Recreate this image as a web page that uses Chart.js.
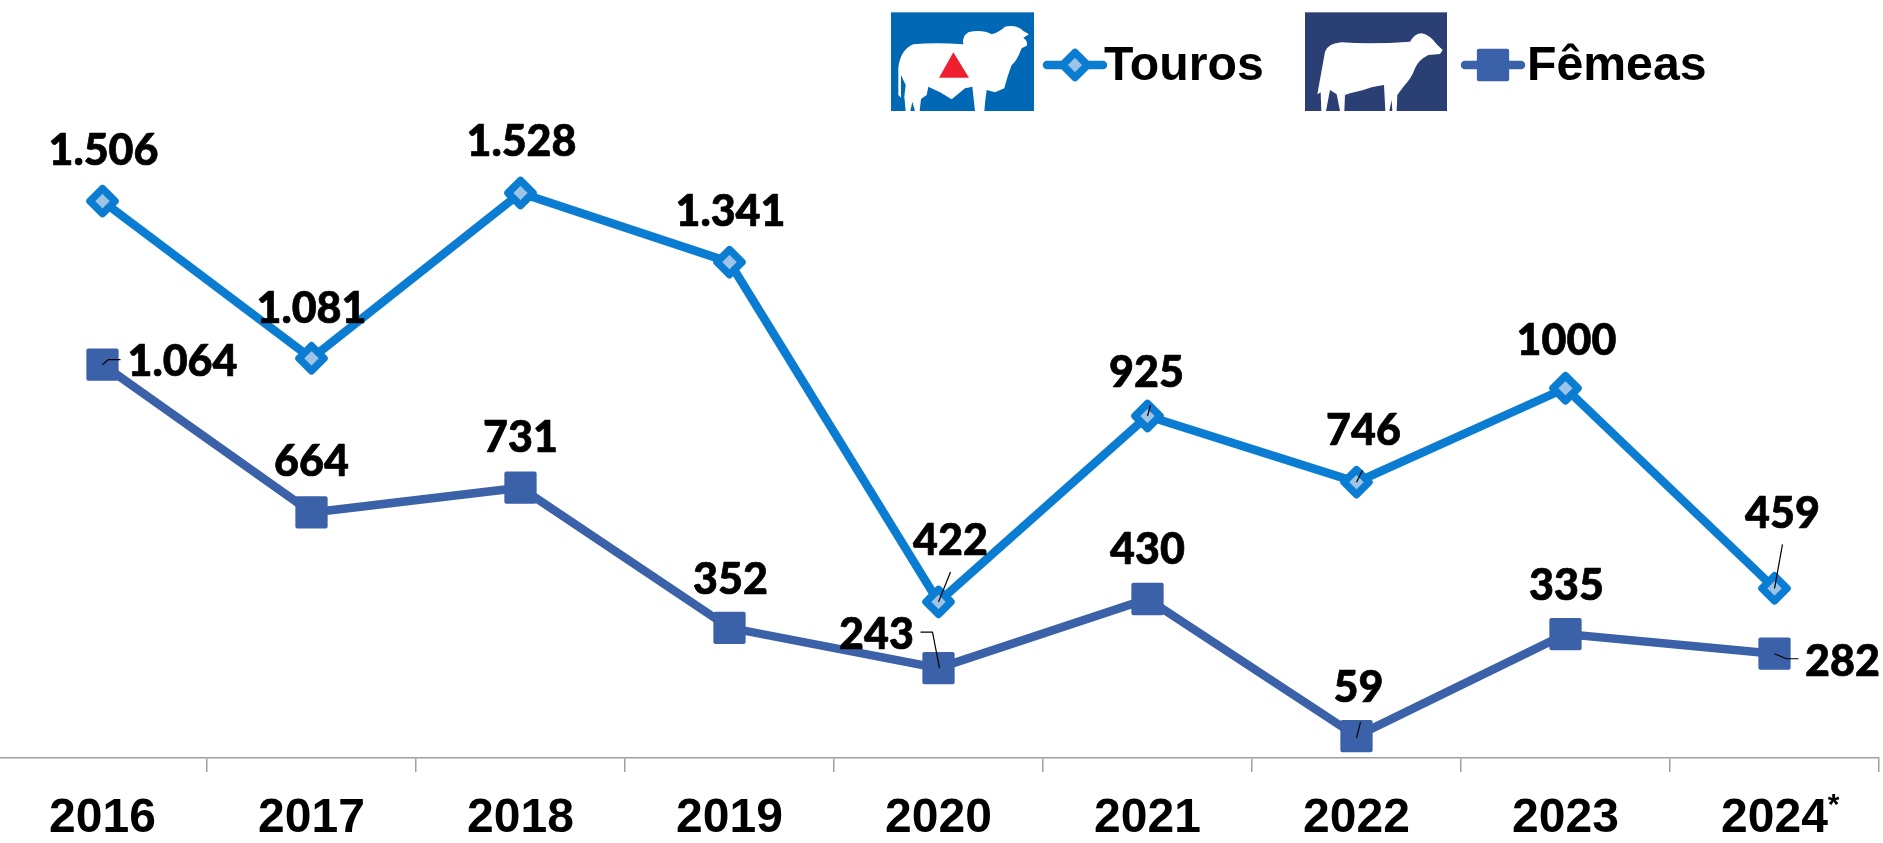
<!DOCTYPE html>
<html><head><meta charset="utf-8">
<style>
html,body{margin:0;padding:0;background:#fff;width:1883px;height:843px;overflow:hidden}
#c{position:absolute;left:-2px;top:0}
svg{position:absolute;top:5px;width:155px;height:110px}
</style>
<script src="https://cdn.jsdelivr.net/npm/chart.js@4"></script>
</head><body>
<canvas id="c" width="1885" height="843"></canvas>
<svg style="left:885px" viewBox="0 0 465 330">
<rect x="18" y="22" width="429" height="296" fill="#0068B5"/>
<path fill="#fff" d="M40 190Q45 135 85 118Q150 112 235 118Q230 95 250 82Q290 72 320 88Q345 80 360 65Q395 58 415 78L432 88L415 98Q430 110 425 122L410 130Q395 170 380 180Q365 220 358 250L330 262L305 255Q300 290 298 318L270 318L262 245L240 250L200 283L165 262L130 245L125 270L108 282L104 318L90 318L82 290L76 318L62 318L58 275L62 240L48 210L48 278L40 270Z"/>
<path fill="#EE2030" d="M205 142L252 218L162 218Z"/>
</svg>
<svg style="left:1300px" viewBox="0 0 465 330">
<rect x="15" y="22" width="426" height="296" fill="#2A4074"/>
<path fill="#fff" d="M75 140Q85 115 125 112Q220 118 330 110Q345 85 365 85Q390 90 410 118L428 135L420 147L385 150Q355 165 345 190Q335 220 310 245L292 270L290 318L277 318L275 285L268 318L256 318L252 240Q215 245 190 255L150 265L135 270L133 318L120 318L110 268L90 255L78 318L64 318L62 262L52 268Z"/>
</svg>
<script>
const categories = ['2016','2017','2018','2019','2020','2021','2022','2023','2024'];
const touros = [1506,1081,1528,1341,422,925,746,1000,459];
const femeas = [1064,664,731,352,243,430,59,335,282];
const tourosLabels = ['1.506','1.081','1.528','1.341','422','925','746','1000','459'];
const femeasLabels = ['1.064','664','731','352','243','430','59','335','282'];

const BLUE='#0A7DD3', LIGHT='#9DC3E6', NAVY='#3B62A9';
const labelOffsets = [
 [[1,-50],[0,-49],[1,-51],[1,-50],[12,-61],[-1,-43],[7,-51],[1,-47],[8,-74]],
 [[80,-2],[0,-50],[0,-50],[1,-48],[-62,-33],[0,-49],[2,-48],[1,-48],[68,8]]
];
const leaders = [
 {4:[[0,0],[12,-30]],5:[[0,0],[3,-11]],6:[[0,0],[6,-12]],8:[[0,0],[8,-44]]},
 {0:[[0,0],[6,-5],[18,-5]],4:[[1,0],[-6,-36],[-18,-36]],6:[[0,2],[4,-14]],8:[[0,0],[12,5],[24,5]]}
];

const annotate = {
  id:'annotate',
  beforeDatasetsDraw(chart){ chart.ctx.lineJoin='round'; },
  afterDatasetsDraw(chart){
    const ctx=chart.ctx;
    ctx.save();
    ctx.lineJoin='miter';
    [tourosLabels,femeasLabels].forEach((labels,d)=>{
      const pts=chart.getDatasetMeta(d).data;
      ctx.strokeStyle='#000'; ctx.lineWidth=1.2;
      Object.entries(leaders[d]).forEach(([i,poly])=>{
        ctx.beginPath();
        poly.forEach(([dx,dy],k)=>{
          const x=pts[i].x+dx,y=pts[i].y+dy;
          k?ctx.lineTo(x,y):ctx.moveTo(x,y);
        });
        ctx.stroke();
      });
      ctx.fillStyle='#000';
      ctx.lineWidth=0.7; ctx.lineJoin='round';
      ctx.font='900 43px Lato, Carlito, sans-serif';
      ctx.textAlign='center'; ctx.textBaseline='middle';
      labels.forEach((t,i)=>{
        const x=pts[i].x+labelOffsets[d][i][0], y=pts[i].y+labelOffsets[d][i][1];
        ctx.fillText(t,x,y);
        ctx.strokeText(t,x,y);
      });
    });
    // superscript on the last category
    const xs=chart.scales.x;
    ctx.font='bold 30px "Liberation Sans", Arial, sans-serif';
    ctx.textAlign='center'; ctx.textBaseline='middle';
    ctx.fillText('*',xs.getPixelForValue(8)+59,806);

    // legend
    ctx.translate(2,0);
    const legend=[[0,1075,1104],[1,1493,1527]];
    legend.forEach(([d,cx,tx])=>{
      const ds=chart.data.datasets[d];
      ctx.strokeStyle=ds.borderColor; ctx.lineWidth=8.5; ctx.lineCap='round';
      ctx.beginPath(); ctx.moveTo(cx-28,65); ctx.lineTo(cx+28,65); ctx.stroke();
      ctx.lineCap='butt'; ctx.lineJoin='round';
      ctx.fillStyle=ds.pointBackgroundColor; ctx.lineWidth=ds.pointBorderWidth;
      Chart.helpers.drawPoint(ctx,{pointStyle:ds.pointStyle,radius:ds.pointRadius,rotation:0,borderWidth:ds.pointBorderWidth},cx,65);
      ctx.fillStyle='#000';
      ctx.font='bold 48.2px "Liberation Sans", Arial, sans-serif';
      ctx.textAlign='left'; ctx.textBaseline='alphabetic';
      ctx.fillText(ds.label,tx,80);
    });
    ctx.restore();
  }
};

new Chart(document.getElementById('c'),{
  type:'line',
  data:{labels:categories,datasets:[
    {label:'Touros',data:touros,borderColor:BLUE,borderWidth:8.5,tension:0,
     pointStyle:'rectRot',pointRadius:12.5,pointHoverRadius:12.5,pointBackgroundColor:LIGHT,pointBorderColor:BLUE,pointBorderWidth:7.5},
    {label:'Fêmeas',data:femeas,borderColor:NAVY,borderWidth:8.5,tension:0,
     pointStyle:'rect',pointRadius:20,pointHoverRadius:20,pointBackgroundColor:NAVY,pointBorderColor:NAVY,pointBorderWidth:4}
  ]},
  options:{
    responsive:false,animation:false,
    layout:{autoPadding:false,padding:{left:0,right:4,top:0,bottom:0}},
    plugins:{legend:{display:false},tooltip:{enabled:false}},
    scales:{
      y:{display:false,min:0,max:2050},
      x:{
        offset:true,
        afterFit(s){s.height=85;s.paddingLeft=0;s.paddingRight=0;},
        border:{color:'#A0A0A0',width:1.5},
        grid:{offset:true,drawOnChartArea:false,color:'#A0A0A0',tickLength:14,lineWidth:1.5},
        ticks:{color:'#000',font:{family:'"Liberation Sans", Arial, sans-serif',weight:'bold',size:48},padding:18,maxRotation:0,autoSkip:false}
      }
    }
  },
  plugins:[annotate]
});
</script>
</body></html>
